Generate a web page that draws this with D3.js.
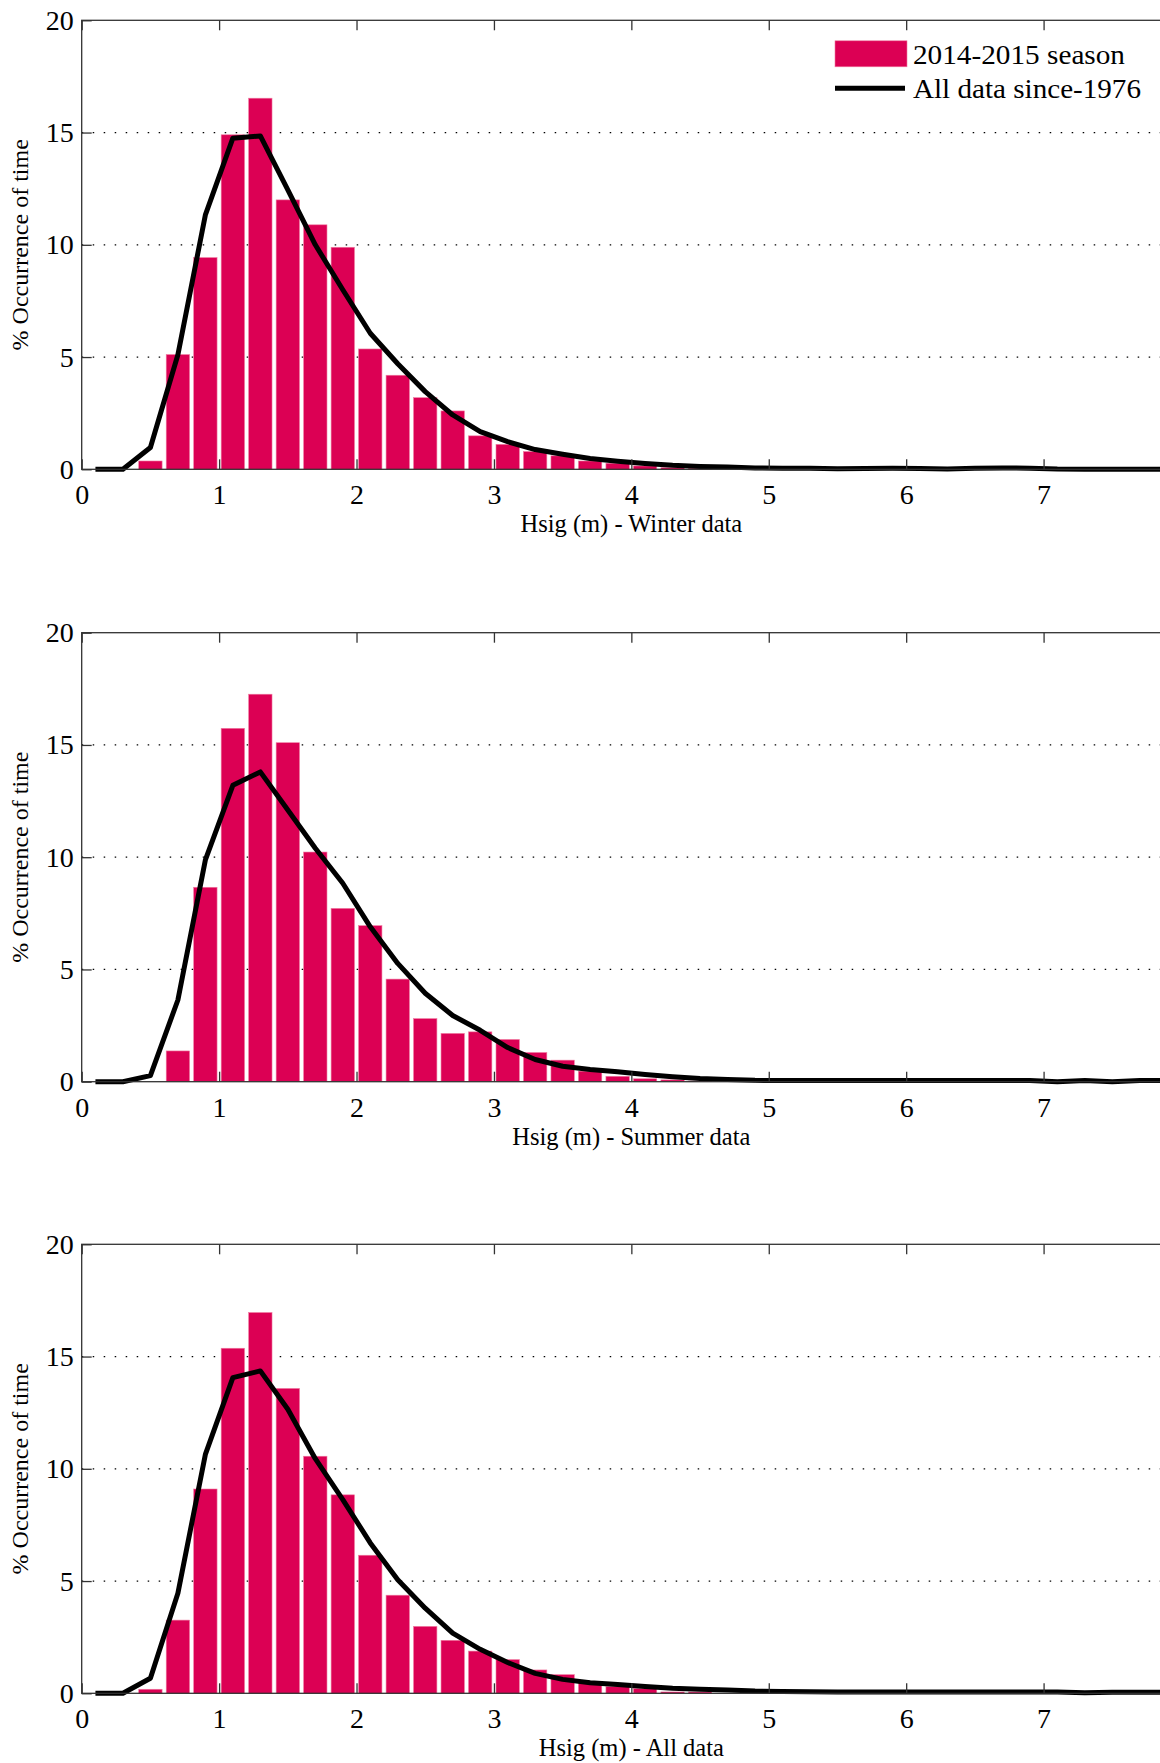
<!DOCTYPE html>
<html>
<head>
  <title>Hsig occurrence</title>
  <script src="https://d3js.org/d3.v7.min.js"></script>
  <style>
    body { margin: 0; background: #fff; }
    text { font-family: "Liberation Serif", "Times New Roman", serif; fill: #000; }
  </style>
</head>
<body>
  <div id="chart"></div>
  <script>
    // bin centres (m), 0.2 m bins
    const binCenters = [0.1, 0.3, 0.5, 0.7, 0.9, 1.1, 1.3, 1.5, 1.7, 1.9,
                        2.1, 2.3, 2.5, 2.7, 2.9, 3.1, 3.3, 3.5, 3.7, 3.9,
                        4.1, 4.3, 4.5, 4.7, 4.9, 5.1, 5.3, 5.5, 5.7, 5.9,
                        6.1, 6.3, 6.5, 6.7, 6.9, 7.1, 7.3, 7.5, 7.7, 7.9];

    // 2014-2015 season (bars), % occurrence
    const seasonWinter = [0, 0, 0.37, 5.11, 9.43, 14.9, 16.53, 12.0, 10.89, 9.89,
                          5.36, 4.19, 3.19, 2.6, 1.49, 1.11, 0.79, 0.6, 0.37, 0.27,
                          0.15, 0.07, 0.05, 0, 0, 0, 0, 0, 0, 0,
                          0, 0, 0, 0, 0, 0, 0, 0, 0, 0];
    const seasonSummer = [0, 0, 0, 1.37, 8.66, 15.74, 17.26, 15.1, 10.23, 7.72,
                          6.95, 4.57, 2.81, 2.15, 2.22, 1.88, 1.3, 0.96, 0.47, 0.24,
                          0.13, 0.08, 0.03, 0, 0, 0, 0, 0, 0, 0,
                          0, 0, 0, 0, 0, 0, 0, 0, 0, 0];
    const seasonAll = [0, 0, 0.18, 3.26, 9.1, 15.37, 16.96, 13.58, 10.56, 8.84,
                       6.15, 4.37, 2.98, 2.36, 1.88, 1.5, 1.04, 0.83, 0.47, 0.3,
                       0.21, 0.06, 0.06, 0, 0, 0, 0, 0, 0, 0,
                       0, 0, 0, 0, 0, 0, 0, 0, 0, 0];

    // all data since 1976 (line), % occurrence
    const allWinter = [0, 0, 0.97, 5.1, 11.33, 14.75, 14.85, 12.45, 10.0, 8.0,
                       6.06, 4.7, 3.46, 2.42, 1.68, 1.23, 0.88, 0.67, 0.48, 0.36,
                       0.26, 0.18, 0.13, 0.1, 0.06, 0.05, 0.05, 0.02, 0.04, 0.05,
                       0.04, 0.01, 0.05, 0.06, 0.05, 0.01, 0, 0, 0, 0];
    const allSummer = [0, 0, 0.27, 3.64, 9.88, 13.2, 13.8, 12.1, 10.4, 8.84,
                       6.9, 5.27, 3.94, 2.95, 2.29, 1.52, 0.99, 0.69, 0.54, 0.44,
                       0.32, 0.22, 0.14, 0.1, 0.06, 0.05, 0.05, 0.05, 0.05, 0.05,
                       0.05, 0.05, 0.05, 0.05, 0.05, 0.0, 0.05, 0.0, 0.05, 0.05];
    const allAll = [0, 0, 0.67, 4.46, 10.64, 14.06, 14.36, 12.65, 10.45, 8.63,
                    6.7, 5.06, 3.79, 2.68, 1.96, 1.37, 0.89, 0.62, 0.47, 0.39,
                    0.3, 0.22, 0.18, 0.15, 0.1, 0.08, 0.07, 0.06, 0.06, 0.06,
                    0.06, 0.06, 0.06, 0.06, 0.06, 0.06, 0.03, 0.05, 0.05, 0.05];

    const xTicks = [0, 1, 2, 3, 4, 5, 6, 7];
    const yTicks = [0, 5, 10, 15, 20];
    const panelLabels = ["Hsig (m) - Winter data", "Hsig (m) - Summer data", "Hsig (m) - All data"];
    const legendLabels = ["2014-2015 season", "All data since-1976"];

    const width = 1160;
    const height = 1763;
    const serif = '"Liberation Serif", "Times New Roman", serif';
    const barColor = "#dc0054";
    const left = 81.7, right = 1181;
    const panelTops = [20.3, 632.7, 1244.3];
    const panelHeight = 449;
    const barWidth = 0.17;

    const svg = d3.select("#chart")
      .append("svg")
      .attr("width", width)
      .attr("height", height);

    svg.append("rect").attr("width", width).attr("height", height).attr("fill", "#fff");

    const x = d3.scaleLinear().domain([0, 8]).range([left, right]);

    function drawPanel(top, seasonVals, allVals, label, showLegend) {
      const bottom = top + panelHeight;
      const y = d3.scaleLinear().domain([0, 20]).range([bottom, top]);
      const g = svg.append("g");

      // dotted grid
      g.selectAll(".grid")
        .data(yTicks.filter(d => d > 0 && d < 20))
        .enter()
        .append("line")
        .attr("x1", left)
        .attr("x2", right)
        .attr("y1", d => y(d))
        .attr("y2", d => y(d))
        .attr("stroke", "#000")
        .attr("stroke-width", 1.3)
        .attr("stroke-dasharray", "1.5,9.5");

      // bars
      const bars = binCenters.map((c, i) => ({ c: c, v: seasonVals[i] })).filter(d => d.v > 0);
      g.selectAll(".bar")
        .data(bars)
        .enter()
        .append("rect")
        .attr("x", d => x(d.c - barWidth / 2))
        .attr("y", d => y(d.v))
        .attr("width", x(barWidth) - x(0))
        .attr("height", d => bottom - y(d.v))
        .attr("fill", barColor)
        .attr("stroke", "#f07aa0")
        .attr("stroke-width", 0.6);

      // long-term line
      const line = d3.line()
        .x(d => x(d[0]))
        .y(d => y(d[1]));
      g.append("path")
        .datum(binCenters.map((c, i) => [c, allVals[i]]))
        .attr("d", line)
        .attr("fill", "none")
        .attr("stroke", "#000")
        .attr("stroke-width", 5)
        .attr("stroke-linejoin", "round");

      // axes box
      g.append("rect")
        .attr("x", left)
        .attr("y", top)
        .attr("width", right - left)
        .attr("height", panelHeight)
        .attr("fill", "none")
        .attr("stroke", "#333")
        .attr("stroke-width", 1.3);

      const xAxis = g.append("g")
        .attr("transform", `translate(0, ${bottom})`)
        .call(d3.axisBottom(x).tickValues(xTicks).tickFormat(d3.format("d")).tickSize(-10).tickPadding(15));
      xAxis.attr("font-family", serif);
      xAxis.select(".domain").remove();
      xAxis.selectAll("line").attr("stroke", "#333").attr("stroke-width", 1.3);
      xAxis.selectAll("text").style("font-size", "28px").style("font-family", serif);

      const xTop = g.append("g")
        .attr("transform", `translate(0, ${top})`)
        .call(d3.axisTop(x).tickValues(xTicks).tickFormat("").tickSize(-10));
      xTop.select(".domain").remove();
      xTop.selectAll("line").attr("stroke", "#333").attr("stroke-width", 1.3);

      const yAxis = g.append("g")
        .attr("transform", `translate(${left}, 0)`)
        .call(d3.axisLeft(y).tickValues(yTicks).tickFormat(d3.format("d")).tickSize(-10).tickPadding(8));
      yAxis.attr("font-family", serif);
      yAxis.select(".domain").remove();
      yAxis.selectAll("line").attr("stroke", "#333").attr("stroke-width", 1.3);
      yAxis.selectAll("text").style("font-size", "28px").style("font-family", serif);

      // axis labels
      g.append("text")
        .attr("x", x(4))
        .attr("y", bottom + 63)
        .attr("text-anchor", "middle")
        .style("font-size", "24.5px")
        .text(label);

      g.append("text")
        .attr("transform", `translate(28, ${top + panelHeight / 2}) rotate(-90)`)
        .attr("text-anchor", "middle")
        .style("font-size", "24px")
        .text("% Occurrence of time");

      if (showLegend) {
        g.append("rect")
          .attr("x", 835)
          .attr("y", top + 20.5)
          .attr("width", 72)
          .attr("height", 26)
          .attr("fill", barColor)
          .attr("stroke", "#f07aa0")
          .attr("stroke-width", 0.6);
        g.append("line")
          .attr("x1", 835)
          .attr("x2", 905)
          .attr("y1", top + 68)
          .attr("y2", top + 68)
          .attr("stroke", "#000")
          .attr("stroke-width", 5);
        const legendWidths = [212, 228];
        g.selectAll(".leg")
          .data(legendLabels)
          .enter()
          .append("text")
          .attr("x", 913)
          .attr("y", (d, i) => top + 43.5 + i * 34)
          .attr("textLength", (d, i) => legendWidths[i])
          .attr("lengthAdjust", "spacingAndGlyphs")
          .style("font-size", "27px")
          .text(d => d);
      }
    }

    drawPanel(panelTops[0], seasonWinter, allWinter, panelLabels[0], true);
    drawPanel(panelTops[1], seasonSummer, allSummer, panelLabels[1], false);
    drawPanel(panelTops[2], seasonAll, allAll, panelLabels[2], false);
  </script>
</body>
</html>
